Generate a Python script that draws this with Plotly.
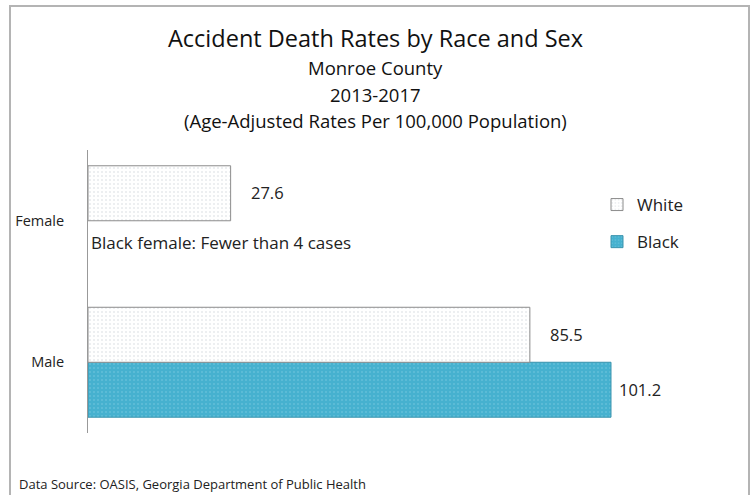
import plotly.graph_objects as go

categories = ["Male", "Female"]
white_rates = [85.5, 27.6]
black_rates = [101.2, None]
series_names = ["White", "Black"]

W, H = 752, 495
L, T = 88, 150
R = W - 700
B = H - 433
pw, ph = W - L - R, H - T - B
SCALE = 5.168                # px per unit


def px(x):
    return (x - L) / pw


def py(y):
    return (H - B - y) / ph


font = "'Open Sans', sans-serif"

fig = go.Figure()
fig.add_trace(go.Bar(
    y=categories, x=black_rates, orientation="h", name=series_names[1],
    legendgroup="b", legendrank=2,
    marker=dict(color="#46B1CF", line=dict(color="#3A93AD", width=1),
                pattern=dict(shape=".", fgcolor="#7CCDE2", bgcolor="#46B1CF",
                             size=4, solidity=0.2)),
))
fig.add_trace(go.Bar(
    y=categories, x=white_rates, orientation="h", name=series_names[0],
    legendgroup="w", legendrank=1,
    marker=dict(color="white", line=dict(color="#8c8c8c", width=1),
                pattern=dict(shape=".", fgcolor="#cfd6da", bgcolor="white",
                             size=4, solidity=0.2)),
))

for cat, v in zip(categories, white_rates):
    if v is not None:
        fig.add_annotation(x=v, y=cat, text=f"{v}", showarrow=False,
                           xanchor="left", yshift=28, xshift=18,
                           font=dict(size=16.5, color="#222"))
for cat, v in zip(categories, black_rates):
    if v is not None:
        fig.add_annotation(x=v, y=cat, text=f"{v}", showarrow=False,
                           xanchor="left", yshift=-27, xshift=6,
                           font=dict(size=16.5, color="#222"))

fig.add_annotation(x=0, y="Female", text="Black female: Fewer than 4 cases",
                   showarrow=False, xanchor="left", yshift=-22, xshift=1,
                   font=dict(size=17, color="#222"))

titles = [("Accident Death Rates by Race and Sex", 38, 23.5),
          ("Monroe County", 68, 18.5),
          ("2013-2017", 95, 18.5),
          ("(Age-Adjusted Rates Per 100,000 Population)", 121, 18.5)]
for text, y, s in titles:
    fig.add_annotation(x=px(375), y=py(y), xref="paper", yref="paper",
                       text=text, showarrow=False, xanchor="center",
                       yanchor="middle", font=dict(size=s, color="#111"))

fig.add_annotation(x=px(17), y=py(484), xref="paper", yref="paper",
                   text="Data Source: OASIS, Georgia Department of Public Health",
                   showarrow=False, xanchor="left", yanchor="middle",
                   font=dict(size=13, color="#222"))

fig.add_shape(type="rect", xref="paper", yref="paper",
              x0=px(10), x1=px(749), y0=py(520), y1=py(6),
              line=dict(color="#b4b4b4", width=2), layer="below")

fig.update_layout(
    width=W, height=H,
    margin=dict(l=L, r=R, t=T, b=B),
    paper_bgcolor="white", plot_bgcolor="white",
    barmode="group", bargap=0.223, bargroupgap=0,
    font=dict(family=font, color="#222"),
    showlegend=True,
    legend=dict(x=px(597), y=py(187), xanchor="left", yanchor="top",
                traceorder="grouped", tracegroupgap=12,
                font=dict(size=17, color="#222"), bgcolor="rgba(0,0,0,0)",
                itemwidth=30),
    xaxis=dict(range=[0, pw / SCALE], visible=False, showgrid=False),
    yaxis=dict(showgrid=False, showline=True, linecolor="#999", linewidth=1,
               ticks="", ticklabelstandoff=20,
               tickfont=dict(size=14.5, color="#222"),
               categoryorder="array", categoryarray=categories),
)

fig.write_html("out.html",
               config={"displayModeBar": False},
               post_script="document.body.style.margin='0';"
                           "document.body.style.overflow='hidden';")
